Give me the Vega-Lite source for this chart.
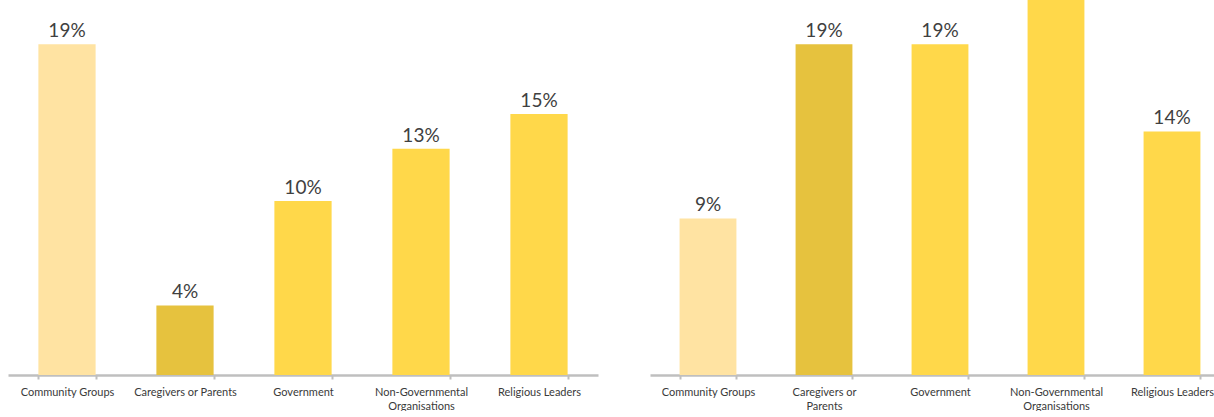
{
  "$schema": "https://vega.github.io/schema/vega-lite/v6.json",
  "background": "white",
  "padding": {"left": 8, "top": 0, "right": 0, "bottom": 0},
  "spacing": 52,
  "config": {
    "view": {"stroke": null},
    "axis": {"grid": false},
    "text": {"font": "Lato"}
  },
  "datasets": {
    "left": [
      {"group": "Community Groups", "share": 0.19},
      {"group": "Caregivers or Parents", "share": 0.04},
      {"group": "Government", "share": 0.10},
      {"group": "Non-Governmental Organisations", "share": 0.13},
      {"group": "Religious Leaders", "share": 0.15}
    ],
    "right": [
      {"group": "Community Groups", "share": 0.09},
      {"group": "Caregivers or Parents", "share": 0.19},
      {"group": "Government", "share": 0.19},
      {"group": "Non-Governmental Organisations", "share": 0.24},
      {"group": "Religious Leaders", "share": 0.14}
    ]
  },
  "hconcat": [
    {
      "width": 590,
      "height": 375,
      "data": {"name": "left"},
      "encoding": {
        "x": {
          "field": "group", "type": "nominal", "sort": null, "title": null,
          "scale": {"paddingInner": 0.515, "paddingOuter": 0.2575},
          "axis": {
            "labelAngle": 0, "labelFont": "Lato", "labelFontSize": 11, "labelColor": "#3A3A3A",
            "labelPadding": 7, "labelLimit": 0, "labelLineHeight": 14,
            "labelExpr": "datum.value == 'Non-Governmental Organisations' ? ['Non-Governmental', 'Organisations'] : datum.value",
            "domainColor": "#BFBFBF", "domainWidth": 2.5, "tickColor": "#BFBFBF", "tickWidth": 2, "tickSize": 4,
            "tickBand": "extent"
          }
        },
        "y": {"field": "share", "type": "quantitative", "axis": null, "scale": {"domain": [0, 0.2155], "nice": false, "zero": true}}
      },
      "layer": [
        {
          "mark": {"type": "bar", "clip": true},
          "encoding": {
            "color": {
              "field": "group", "type": "nominal", "legend": null,
              "scale": {
                "domain": ["Community Groups", "Caregivers or Parents", "Government", "Non-Governmental Organisations", "Religious Leaders"],
                "range": ["#FFE3A2", "#E6C23E", "#FFD84A", "#FFD84A", "#FFD84A"]
              }
            }
          }
        },
        {
          "mark": {"type": "text", "fontSize": 19, "color": "#404040", "dy": -7, "baseline": "alphabetic"},
          "encoding": {"text": {"field": "share", "type": "quantitative", "format": ".0%"}}
        }
      ]
    },
    {
      "width": 580,
      "height": 375,
      "data": {"name": "right"},
      "encoding": {
        "x": {
          "field": "group", "type": "nominal", "sort": null, "title": null,
          "scale": {"paddingInner": 0.51, "paddingOuter": 0.255},
          "axis": {
            "labelAngle": 0, "labelFont": "Lato", "labelFontSize": 11, "labelColor": "#3A3A3A",
            "labelPadding": 7, "labelLimit": 0, "labelLineHeight": 14,
            "labelExpr": "datum.value == 'Non-Governmental Organisations' ? ['Non-Governmental', 'Organisations'] : datum.value == 'Caregivers or Parents' ? ['Caregivers or', 'Parents'] : datum.value",
            "domainColor": "#BFBFBF", "domainWidth": 2.5, "tickColor": "#BFBFBF", "tickWidth": 2, "tickSize": 4,
            "tickBand": "extent"
          }
        },
        "y": {"field": "share", "type": "quantitative", "axis": null, "scale": {"domain": [0, 0.2155], "nice": false, "zero": true}}
      },
      "layer": [
        {
          "mark": {"type": "bar", "clip": true},
          "encoding": {
            "color": {
              "field": "group", "type": "nominal", "legend": null,
              "scale": {
                "domain": ["Community Groups", "Caregivers or Parents", "Government", "Non-Governmental Organisations", "Religious Leaders"],
                "range": ["#FFE3A2", "#E6C23E", "#FFD84A", "#FFD84A", "#FFD84A"]
              }
            }
          }
        },
        {
          "transform": [{"filter": "datum.share <= 0.2155"}],
          "mark": {"type": "text", "fontSize": 19, "color": "#404040", "dy": -7, "baseline": "alphabetic"},
          "encoding": {"text": {"field": "share", "type": "quantitative", "format": ".0%"}}
        }
      ]
    }
  ],
  "resolve": {"scale": {"color": "independent"}}
}
